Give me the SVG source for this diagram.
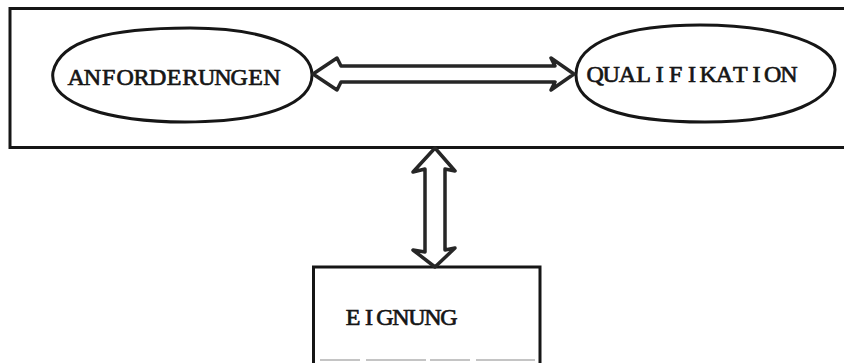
<svg xmlns="http://www.w3.org/2000/svg" width="844" height="363" viewBox="0 0 844 363">
  <style>
    .frame { fill: none; stroke: #161616; stroke-width: 3; }
    .oval { fill: #ffffff; stroke: #161616; stroke-width: 3; }
    .label { font-family: "Liberation Serif", "Times New Roman", serif; font-size: 24px; fill: #161616; stroke: #161616; stroke-width: 0.7; text-anchor: middle; }
    .hollow { fill: #ffffff; stroke: #262626; stroke-width: 3.5; stroke-linejoin: round; }
  </style>
  <rect width="844" height="363" fill="#ffffff"/>

  <!-- outer frame around the two ovals (runs off the right edge) -->
  <g id="frame">
    <path class="frame" d="M 860 8.5 L 10 8.5 L 10 147.5 L 860 147.5"/>
  </g>

  <!-- labels are set on a fixed typewriter pitch: one x per character -->
  <g id="anforderungen">
    <path class="oval" d="M 53 72 C 60 40 110 28 190 28 C 270 28 312 50 312 75 C 312 102 270 122 185 122 C 110 122 48 104 53 72 Z"/>
    <text class="label" x="76.2 92.5 108.8 125.1 141.4 157.7 174 190.3 206.6 222.9 239.2 255.5 271.8" y="85">ANFORDERUNGEN</text>
  </g>

  <g id="qualifikation">
    <path class="oval" d="M 576 75 C 576 40 630 25 700 25 C 780 25 836 45 835 70 C 834 100 790 122 705 122 C 620 122 576 105 576 75 Z"/>
    <text class="label" x="595.1 611.2 627.4 643.5 659.7 675.8 692 708.1 724.3 740.4 756.6 772.7 788.9" y="82">QUALIFIKATION</text>
  </g>

  <g id="eignung">
    <path class="frame" d="M 313.5 363 L 313.5 267 L 540 267 L 540 363"/>
    <line x1="320" y1="360" x2="535" y2="360" stroke="#c4c4c4" stroke-width="2" stroke-dasharray="40 6 60 4"/>
    <text class="label" x="353 369 385 401 417 433 449" y="325">EIGNUNG</text>
  </g>

  <!-- hollow double-headed arrows -->
  <g id="connectors">
    <polygon class="hollow" points="313,74 337,58 341,66 555,66 551,58 574,74 551,90 555,82 341,82 337,90"/>
    <polygon class="hollow" points="435,148 455,171 445,169 445,250 455,248 435,267 413,250 425,252 425,169 413,172"/>
  </g>
</svg>
